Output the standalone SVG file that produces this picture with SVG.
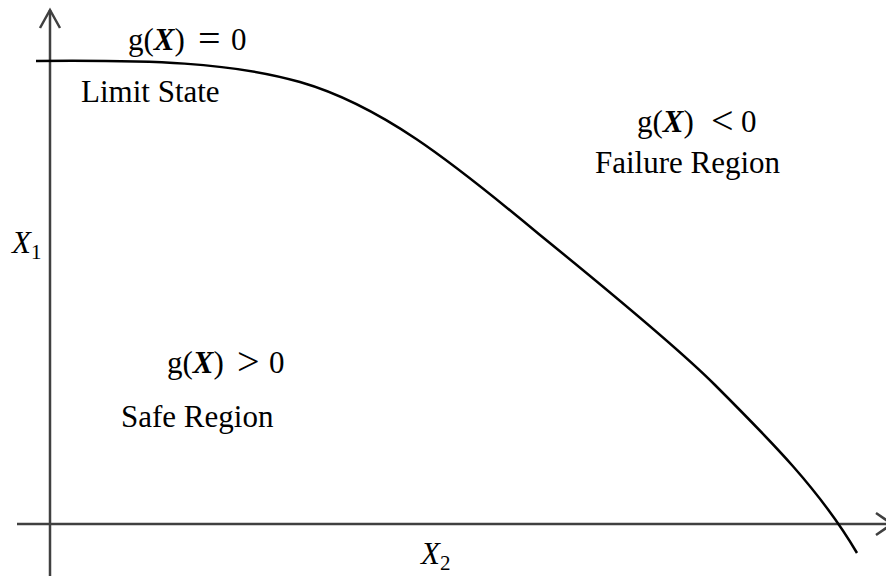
<svg xmlns="http://www.w3.org/2000/svg" width="886" height="576" viewBox="0 0 886 576">
  <style>
    .axis { stroke: #404040; stroke-width: 2.5; fill: none; }
    .curve { stroke: #000; stroke-width: 2.5; fill: none; }
    text { font-family: "Liberation Serif", "Times New Roman", serif; font-size: 31px; fill: #000; }
    .bx { font-weight: bold; font-style: italic; }
    .it { font-style: italic; }
    .op { font-size: 40px; }
    .sub { font-size: 21px; }
  </style>
  <rect width="886" height="576" fill="#fff"/>
  <g id="connectors">
    <line class="axis" x1="50" y1="576" x2="50" y2="10"/>
    <polyline class="axis" points="40,28 50,10 60,28"/>
    <line class="axis" x1="17" y1="524" x2="892" y2="524"/>
    <polyline class="axis" points="876,513 892,524 876,535"/>
    <path class="curve" d="M36,61 C150,60 230,62 300,82 C380,105 450,160 540,235 C620,300 680,350 715,385 C770,440 820,490 857,553"/>
  </g>
  <g id="limit-state">
    <text y="50"><tspan x="128">g(</tspan><tspan class="bx">X</tspan><tspan>)</tspan><tspan class="op" x="198" dy="2">=</tspan><tspan x="231" dy="-2">0</tspan></text>
    <text x="81" y="102">Limit State</text>
  </g>
  <g id="failure-region">
    <text y="132"><tspan x="637">g(</tspan><tspan class="bx">X</tspan><tspan>)</tspan><tspan class="op" x="711" dy="2">&lt;</tspan><tspan x="741" dy="-2">0</tspan></text>
    <text x="595" y="173">Failure Region</text>
  </g>
  <g id="safe-region">
    <text y="373"><tspan x="167">g(</tspan><tspan class="bx">X</tspan><tspan>)</tspan><tspan class="op" x="237" dy="2">&gt;</tspan><tspan x="269" dy="-2">0</tspan></text>
    <text x="121" y="427">Safe Region</text>
  </g>
  <g id="x1-label">
    <text x="12" y="253"><tspan class="it">X</tspan><tspan class="sub" dy="6">1</tspan></text>
  </g>
  <g id="x2-label">
    <text x="421" y="564"><tspan class="it">X</tspan><tspan class="sub" dy="6">2</tspan></text>
  </g>
</svg>
